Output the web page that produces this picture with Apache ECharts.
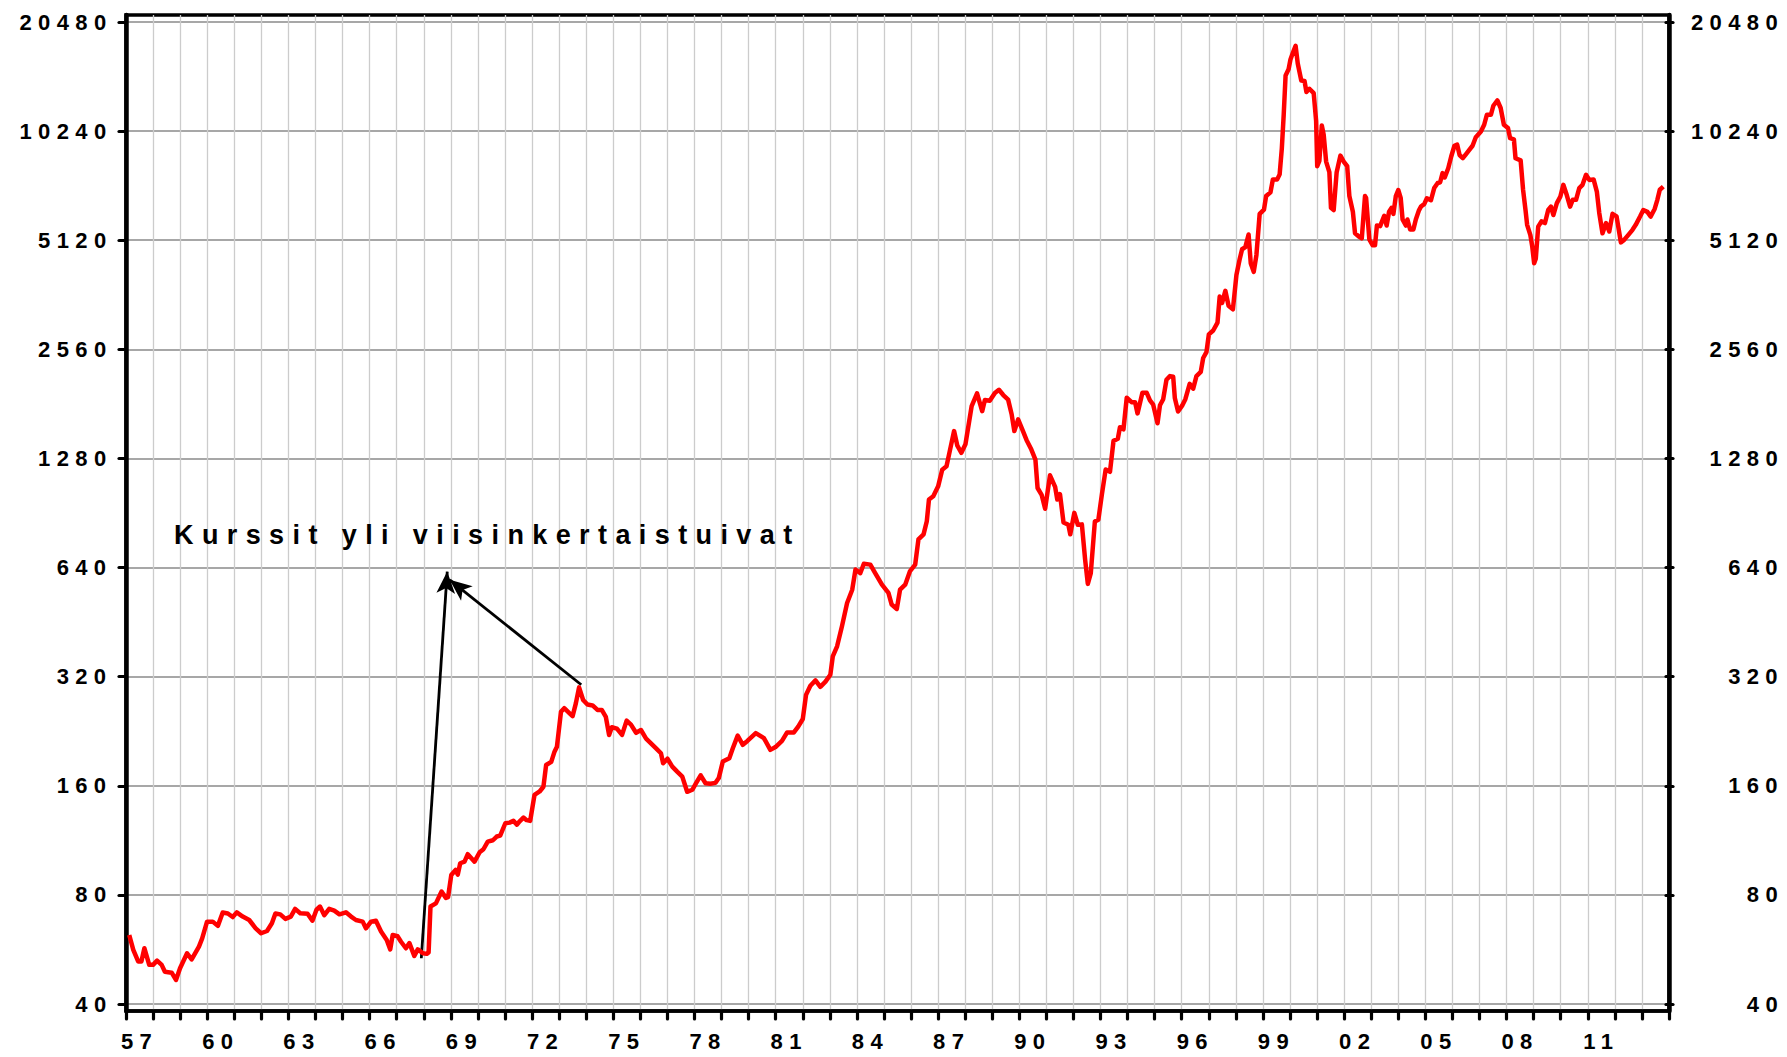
<!DOCTYPE html>
<html>
<head>
<meta charset="utf-8">
<script src="https://cdn.jsdelivr.net/npm/echarts@6/dist/echarts.min.js"></script>
<style>
  html, body { margin: 0; padding: 0; background: #fff; }
  #chart { width: 1787px; height: 1057px; }
  #chart svg text { letter-spacing: 0.29em; }
  #chart svg text[style*="27px"] { letter-spacing: 8.4px; }
</style>
</head>
<body>
<div id="chart"></div>
<script>
// ---- Data ----
const yearLabels = ['57','58','59','60','61','62','63','64','65','66','67','68','69','70','71','72','73','74','75','76','77','78','79','80','81','82','83','84','85','86','87','88','89','90','91','92','93','94','95','96','97','98','99','00','01','02','03','04','05','06','07','08','09','10','11','12','13'];
const yTickLabels = ['40','80','160','320','640','1280','2560','5120','10240','20480'];
const annotationText = 'Kurssit yli viisinkertaistuivat';

// [decimal year, index value]
const d1957_1967 = [[1957.12,62],[1957.27,56.4],[1957.45,52.4],[1957.57,52.4],[1957.68,57],[1957.86,51.3],[1958.0,51.3],[1958.15,52.7],[1958.32,51.3],[1958.44,49.1],[1958.69,48.8],[1958.85,46.6],[1959.0,50.2],[1959.26,55.2],[1959.43,53.1],[1959.7,57.6],[1959.82,60.7],[1960.0,67.5],[1960.21,67.5],[1960.4,65.7],[1960.58,71.5],[1960.77,71.1],[1960.95,69.5],[1961.1,71.6],[1961.32,69.7],[1961.56,68.2],[1961.8,64.7],[1962.0,62.7],[1962.22,63.6],[1962.4,66.8],[1962.53,71.1],[1962.71,70.7],[1962.9,68.7],[1963.1,69.7],[1963.26,73.2],[1963.45,71.2],[1963.72,71.0],[1963.9,67.9],[1964.05,72.8],[1964.18,74.3],[1964.34,70.3],[1964.52,73.2],[1964.71,72.4],[1964.9,70.7],[1965.14,71.6],[1965.33,69.7],[1965.51,68.2],[1965.76,67.5],[1965.88,64.7],[1966.07,67.5],[1966.25,67.9],[1966.44,63.4],[1966.65,60.1],[1966.78,56.6],[1966.87,62.0],[1967.05,61.5],[1967.18,59.4],[1967.36,57.0],[1967.49,58.9],[1967.67,54.3],[1967.8,56.6],[1967.99,55.2]];
const d1968_1977 = [[1968.13,55.0],[1968.2,55.5],[1968.27,74.3],[1968.47,75.8],[1968.68,81.7],[1968.84,78.5],[1968.92,78.9],[1969.04,90.8],[1969.2,93.8],[1969.28,91],[1969.37,97.8],[1969.53,98.8],[1969.65,103.6],[1969.9,98.8],[1970.09,104.9],[1970.23,106.9],[1970.39,112.2],[1970.58,113.2],[1970.72,115.9],[1970.85,116.6],[1971.04,126.1],[1971.2,126.6],[1971.34,128],[1971.47,125],[1971.56,127.5],[1971.71,130.7],[1971.83,128.6],[1971.96,128],[1972.12,151],[1972.31,154.3],[1972.45,159],[1972.55,182.6],[1972.74,186.3],[1972.86,198.7],[1972.95,205],[1973.1,256],[1973.22,262],[1973.41,254],[1973.53,249],[1973.65,270],[1973.77,299],[1973.92,276],[1974.08,268],[1974.27,266.6],[1974.45,259],[1974.61,259],[1974.76,248],[1974.88,221],[1974.98,232],[1975.17,230],[1975.36,221],[1975.53,242],[1975.69,236],[1975.88,224],[1976.06,228],[1976.25,216],[1976.43,209.5],[1976.62,203],[1976.8,196.7],[1976.88,184.6],[1977.04,190],[1977.22,180.7],[1977.4,175],[1977.59,169.6],[1977.77,154],[1977.96,156]];
const d1978_1992 = [[1978.1,162.6],[1978.27,171],[1978.45,162.6],[1978.63,162],[1978.82,163],[1978.94,168],[1979.09,186.7],[1979.33,190.7],[1979.46,203],[1979.64,220],[1979.83,207.6],[1980.0,212.7],[1980.31,223.6],[1980.61,216.6],[1980.85,201],[1981.04,204.6],[1981.28,212.7],[1981.47,224.6],[1981.72,224.6],[1981.88,233],[1982.05,244.5],[1982.17,285],[1982.33,302],[1982.52,312.5],[1982.7,300],[1982.89,310],[1983.07,323.8],[1983.16,364],[1983.32,388],[1983.5,440.6],[1983.69,511],[1983.88,556],[1984.0,632],[1984.18,618],[1984.31,656],[1984.55,652],[1984.73,618],[1984.98,574],[1985.22,545],[1985.34,506],[1985.53,492],[1985.65,556],[1985.84,574],[1986.02,626],[1986.21,652],[1986.33,765],[1986.52,790],[1986.64,859],[1986.72,986],[1986.88,1007],[1987.06,1072],[1987.21,1192],[1987.37,1218],[1987.49,1341],[1987.65,1523],[1987.77,1388],[1987.92,1327],[1988.07,1400],[1988.3,1784],[1988.5,1936],[1988.69,1728],[1988.79,1855],[1988.97,1847],[1989.16,1940],[1989.31,1980],[1989.47,1915],[1989.65,1860],[1989.78,1695],[1989.88,1523],[1990.02,1640],[1990.2,1523],[1990.33,1440],[1990.51,1354],[1990.66,1270],[1990.74,1061],[1990.89,1016],[1991.02,930],[1991.2,1150],[1991.39,1068],[1991.47,986],[1991.57,1020],[1991.7,852],[1991.88,840],[1991.95,791],[1992.1,906],[1992.23,840],[1992.38,842],[1992.5,673],[1992.6,577],[1992.71,618],[1992.86,857],[1992.99,867]];
const d1993_2004 = [[1993.12,1018],[1993.26,1193],[1993.42,1176],[1993.55,1431],[1993.71,1450],[1993.79,1561],[1993.92,1540],[1994.04,1883],[1994.22,1830],[1994.35,1830],[1994.44,1704],[1994.62,1942],[1994.78,1942],[1994.9,1850],[1995.02,1801],[1995.18,1600],[1995.27,1795],[1995.39,1865],[1995.51,2110],[1995.64,2160],[1995.76,2150],[1995.82,1880],[1995.94,1725],[1996.09,1790],[1996.21,1865],[1996.37,2055],[1996.5,1995],[1996.62,2160],[1996.78,2218],[1996.87,2423],[1996.99,2514],[1997.08,2815],[1997.24,2885],[1997.4,3034],[1997.48,3579],[1997.57,3440],[1997.69,3712],[1997.81,3376],[1997.97,3300],[1998.1,4106],[1998.22,4537],[1998.31,4835],[1998.43,4900],[1998.55,5309],[1998.63,4425],[1998.74,4188],[1998.84,4660],[1998.96,6050],[1999.12,6215],[1999.2,6780],[1999.36,6940],[1999.45,7535],[1999.61,7535],[1999.7,7780],[1999.78,9165],[1999.85,11345],[1999.92,14590],[2000.03,15160],[2000.1,16140],[2000.19,16840],[2000.29,17610],[2000.37,15740],[2000.5,14120],[2000.62,14080],[2000.69,13130],[2000.8,13400],[2000.96,13035],[2001.05,10925],[2001.09,8195],[2001.17,8480],[2001.26,10610],[2001.33,10010],[2001.42,8440],[2001.54,7890],[2001.6,6288],[2001.7,6200],[2001.81,7890],[2001.95,8765],[2002.07,8440],[2002.2,8195],[2002.28,6780],[2002.41,6135],[2002.49,5350],[2002.62,5250],[2002.74,5180],[2002.86,6780],[2002.9,6700],[2003.02,5150],[2003.14,4960],[2003.23,4960],[2003.3,5620],[2003.42,5600],[2003.57,5980],[2003.66,5620],[2003.75,6135],[2003.84,6288],[2003.91,6050],[2004.0,6780],[2004.09,7045],[2004.18,6700],[2004.25,5840],[2004.37,5620],[2004.43,5840],[2004.53,5480],[2004.65,5480],[2004.74,5840],[2004.86,6200]];
const d2005_2013 = [[2004.93,6340],[2005.05,6440],[2005.15,6685],[2005.3,6600],[2005.42,7130],[2005.55,7365],[2005.64,7400],[2005.73,7845],[2005.81,7630],[2005.94,8090],[2006.05,8715],[2006.17,9330],[2006.27,9400],[2006.36,8795],[2006.48,8620],[2006.6,8850],[2006.72,9090],[2006.84,9330],[2006.96,9850],[2007.15,10220],[2007.27,10660],[2007.37,11360],[2007.52,11360],[2007.61,12030],[2007.76,12440],[2007.88,11860],[2008.0,10660],[2008.15,10440],[2008.23,9790],[2008.37,9720],[2008.43,8620],[2008.62,8500],[2008.71,7055],[2008.8,6205],[2008.86,5645],[2008.98,5290],[2009.05,4915],[2009.12,4425],[2009.18,4550],[2009.27,5580],[2009.39,5770],[2009.52,5710],[2009.64,6205],[2009.74,6340],[2009.83,6010],[2009.96,6480],[2010.09,6760],[2010.2,7280],[2010.33,6810],[2010.45,6340],[2010.55,6620],[2010.67,6620],[2010.79,7130],[2010.91,7280],[2011.04,7760],[2011.16,7510],[2011.32,7535],[2011.44,6975],[2011.53,6085],[2011.65,5350],[2011.78,5710],[2011.9,5410],[2012.02,6055],[2012.17,5960],[2012.33,5050],[2012.45,5130],[2012.6,5290],[2012.76,5470],[2012.88,5645],[2013.04,5950],[2013.16,6205],[2013.31,6130],[2013.43,5950],[2013.58,6245],[2013.68,6620],[2013.77,7055],[2013.9,7200]];

// Annotation arrows: [start, tip] in data coordinates
const arrowFromLow = [[1967.93, 53.5], [1968.89, 624]];
const arrowFromPeak = [[1973.85, 304], [1968.98, 592]];

const seriesData = [].concat(d1957_1967, d1968_1977, d1978_1992, d1993_2004, d2005_2013);

const FONT = '"Liberation Sans", Arial, sans-serif';
const labelStyle = { color: '#000', fontSize: 22, fontWeight: 'bold', fontFamily: FONT };

const chart = echarts.init(document.getElementById('chart'), null, { renderer: 'svg' });
chart.setOption({
  animation: false,
  backgroundColor: '#fff',
  grid: [
    { left: 126, right: 118, top: 15, bottom: 46, show: true, borderColor: '#000', borderWidth: 3.5, backgroundColor: 'transparent' },
    { left: 126, right: 118, top: 22, bottom: 53 }
  ],
  xAxis: [
    {
      gridIndex: 0, type: 'category', data: yearLabels, boundaryGap: true, position: 'bottom',
      axisLine: { show: true, lineStyle: { color: '#000', width: 3.5 } },
      axisTick: { show: true, interval: 0, length: 8, lineStyle: { color: '#000', width: 3.2, cap: 'round' } },
      axisLabel: Object.assign({ interval: 2, margin: 19 }, labelStyle),
      splitLine: { show: true, interval: 0, lineStyle: { color: '#cccccc', width: 1.3 } }
    },
    { gridIndex: 1, type: 'value', min: 1957, max: 2014, position: 'bottom', show: false }
  ],
  yAxis: [
    { gridIndex: 0, type: 'value', min: 0, max: 1, position: 'left',
      axisLine: { show: true, lineStyle: { color: '#000', width: 4.5 } },
      axisTick: { show: false }, axisLabel: { show: false }, splitLine: { show: false } },
    { gridIndex: 0, type: 'value', min: 0, max: 1, position: 'right',
      axisLine: { show: true, lineStyle: { color: '#000', width: 4.5 } },
      axisTick: { show: false }, axisLabel: { show: false }, splitLine: { show: false } },
    { gridIndex: 1, type: 'log', logBase: 2, min: 40, max: 20480, position: 'left', show: false },
    { gridIndex: 1, type: 'value', min: 0, max: 9, interval: 1, position: 'left',
      axisLine: { show: false },
      axisTick: { show: true, length: 7, lineStyle: { color: '#000', width: 3.2, cap: 'round' } },
      axisLabel: Object.assign({ margin: 13.5, formatter: function (v) { return yTickLabels[v]; } }, labelStyle),
      splitLine: { show: true, lineStyle: { color: '#8a8a8a', width: 1.5 } } },
    { gridIndex: 1, type: 'value', min: 0, max: 9, interval: 1, position: 'right',
      axisLine: { show: false },
      axisTick: { show: true, length: 7, lineStyle: { color: '#000', width: 3.2, cap: 'round' } },
      axisLabel: Object.assign({ margin: 118, align: 'right', formatter: function (v) { return yTickLabels[v]; } }, labelStyle),
      splitLine: { show: false } }
  ],
  series: [{
    type: 'line', xAxisIndex: 1, yAxisIndex: 2,
    data: seriesData,
    showSymbol: false, symbol: 'none',
    lineStyle: { color: '#ff0000', width: 4.5, join: 'round' },
    z: 5,
    markLine: {
      silent: true,
      symbol: ['none', 'arrow'],
      symbolSize: [14, 22],
      lineStyle: { color: '#000', width: 2.8, type: 'solid' },
      itemStyle: { color: '#000' },
      label: { show: false },
      emphasis: { disabled: true },
      data: [
        [{ coord: arrowFromLow[0] }, { coord: arrowFromLow[1] }],
        [{ coord: arrowFromPeak[0] }, { coord: arrowFromPeak[1] }]
      ]
    }
  }],
  graphic: [{
    type: 'text', x: 174, y: 535, z: 10,
    style: {
      text: annotationText, fill: '#000',
      font: 'bold 27px ' + FONT,
      fontSize: 27, fontWeight: 'bold', fontFamily: FONT,
      align: 'left', verticalAlign: 'middle',
      textAlign: 'left', textVerticalAlign: 'middle'
    }
  }]
});
</script>
</body>
</html>
